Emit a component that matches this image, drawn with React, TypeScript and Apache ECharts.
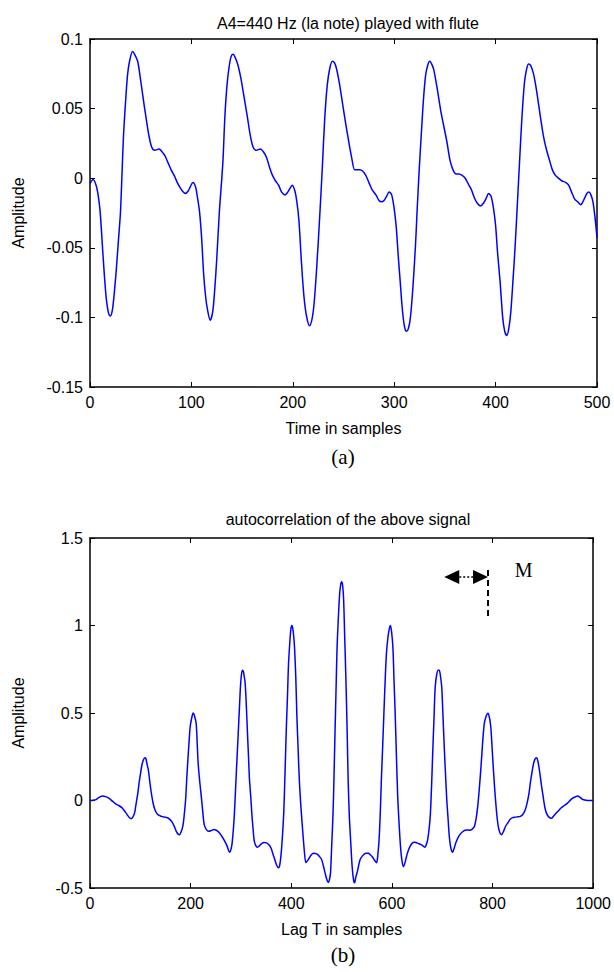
import React, { useEffect, useRef } from "react";
import * as echarts from "echarts";

// ---- (a) flute signal: time in samples / amplitude ----
const fluteT = [
  0, 3, 6, 8, 10, 12, 14, 16, 18, 20, 22, 24, 26, 28, 30, 31.5, 33, 35, 37, 39, 42, 44, 47, 50, 53.5, 56, 58, 61, 64, 68, 71, 74, 77, 80, 83, 86, 89, 92, 94, 97, 99, 101.5,
  104, 106, 108, 110, 112, 114, 116, 118.5, 121, 123, 125, 127.5, 131, 133, 135, 137, 139, 141, 143, 146, 149, 152, 155, 158, 161, 164, 168, 171, 174, 177, 180, 183, 186, 189, 192.5, 195, 197.5, 199.5,
  202, 204, 206, 208.5, 211, 213.5, 216.5, 219, 221, 223.5, 226.5, 229, 231.5, 234, 236.5, 239, 241, 243, 246, 249, 252, 255, 258, 261, 263.5, 266, 269, 272, 275, 278, 282, 285, 287.5, 290, 292.5, 295, 297.5,
  300, 302, 304, 306, 308, 310, 312, 314, 316, 318.5, 321, 322.5, 324.5, 327, 329, 331, 333, 335, 337, 339, 342.5, 346, 349, 352, 355, 358, 361, 364, 367, 370, 373, 376, 379, 382, 385, 388, 391, 393, 395.5,
  398, 400, 402, 404.5, 407, 409, 411, 413, 415, 417, 419, 420.5, 423.5, 426, 428.5, 430.5, 432.5, 434.5, 437, 439, 441, 444, 447, 450, 453.5, 456, 459, 462, 465.5, 469, 472, 475.5, 478, 481, 484, 486, 488, 490, 492, 494, 496, 498, 500,
];
const fluteAmp = [
  -0.004, -0.001, -0.005, -0.012, -0.024, -0.046, -0.068, -0.086, -0.096, -0.099, -0.095, -0.082, -0.065, -0.045, -0.025, 0.002, 0.03, 0.054, 0.074, 0.084, 0.091, 0.089, 0.084, 0.07, 0.052, 0.04, 0.031, 0.022, 0.02, 0.021, 0.019, 0.016, 0.011, 0.006, 0.002, -0.003, -0.007, -0.01, -0.011, -0.009, -0.006, -0.003,
  -0.006, -0.014, -0.024, -0.042, -0.068, -0.085, -0.095, -0.102, -0.096, -0.08, -0.058, -0.025, 0.011, 0.044, 0.066, 0.079, 0.087, 0.089, 0.087, 0.081, 0.071, 0.058, 0.045, 0.031, 0.022, 0.02, 0.021, 0.019, 0.015, 0.008, 0.002, -0.002, -0.005, -0.01, -0.012, -0.01, -0.007, -0.005,
  -0.009, -0.017, -0.03, -0.06, -0.085, -0.099, -0.106, -0.101, -0.09, -0.065, -0.028, 0.006, 0.043, 0.067, 0.079, 0.084, 0.083, 0.079, 0.068, 0.054, 0.04, 0.027, 0.015, 0.006, 0.006, 0.006, 0.005, 0.002, -0.003, -0.008, -0.012, -0.016, -0.017, -0.016, -0.013, -0.01, -0.012,
  -0.022, -0.035, -0.056, -0.075, -0.094, -0.106, -0.11, -0.108, -0.1, -0.078, -0.048, -0.025, 0.004, 0.035, 0.058, 0.074, 0.081, 0.084, 0.082, 0.078, 0.064, 0.048, 0.037, 0.026, 0.013, 0.006, 0.003, 0.003, 0.002, 0, -0.004, -0.008, -0.014, -0.018, -0.02, -0.018, -0.014, -0.011, -0.013,
  -0.022, -0.034, -0.054, -0.075, -0.1, -0.11, -0.113, -0.108, -0.096, -0.075, -0.052, -0.032, 0.01, 0.044, 0.069, 0.078, 0.082, 0.081, 0.076, 0.069, 0.06, 0.045, 0.031, 0.021, 0.012, 0.006, 0.002, 0, -0.002, -0.003, -0.005, -0.011, -0.015, -0.017, -0.019, -0.017, -0.014, -0.011, -0.01, -0.012, -0.017, -0.028, -0.043,
];

// ---- (b) autocorrelation: lag T in samples / amplitude ----
const lagT = [
  0, 6, 12, 18, 25, 31, 38, 45, 51, 58, 64, 70, 74, 78, 82, 85, 88.5, 91, 95, 98, 100.5, 103, 106, 109, 111, 113.5, 116, 118.5, 121, 125, 129, 134, 139, 144, 149, 155,
  162, 167, 171.5, 175, 178, 181, 184.5, 187, 190, 192, 194.5, 197, 199, 202, 205, 208, 211, 213, 215, 218, 220.5, 224, 227, 231, 236, 241, 246.5, 251, 256,
  261, 266, 270, 273, 276, 278, 280.5, 282.5, 285, 287, 289.5, 292, 294.5, 297, 299, 301, 303, 305, 307, 308.5, 311, 313, 315, 317, 319.5, 321.5, 324, 326, 329, 333, 337, 341, 346, 351, 355,
  359.5, 363, 367, 371, 374.5, 377, 380, 382.5, 385, 387.5, 390, 392.5, 394.5, 397, 399, 401, 403, 405, 406.5, 409, 411, 413.5, 416, 419, 423, 426, 429, 432, 436, 440, 444, 448, 452, 456,
  460, 463.5, 467, 470.5, 474, 476, 478, 480, 483, 485, 487, 489, 491, 493.5, 496, 498, 500,
  502, 504, 506, 508.5, 511, 513, 515.5, 518, 521, 524, 526, 528, 531, 534, 537, 541, 545, 549, 553, 557, 561, 565, 569.5, 572, 574.5, 577, 579, 581.5, 584, 586.5, 589, 592, 595, 597, 599.5,
  602, 604, 606.5, 609, 611.5, 614, 617, 620, 623, 626, 629, 632, 636, 640, 644, 648, 652, 657, 661, 665, 668, 671, 674, 676.5, 679, 681, 683.5, 686, 689, 692, 694, 696.5, 699,
  701.5, 704, 706.5, 709, 711.5, 714, 717, 720.5, 724, 727, 731, 735, 740, 745, 750, 754.5, 759, 764, 767.5, 770.5, 774, 777, 780, 783.5, 787, 791, 794, 796.5, 799.5,
  803, 806, 809.5, 813, 818, 822, 826, 831, 835.5, 840, 845, 850, 855, 860, 865, 869, 872.5, 875, 878, 881, 884, 887.5, 890.5, 894, 897, 900.5,
  904, 907, 912, 917, 921, 926.5, 931, 936, 942, 949, 954, 959, 964, 969, 974, 978, 983, 988, 994, 1000,
];
const autocorr = [
  0, 0.002, 0.005, 0.018, 0.026, 0.022, 0.012, -0.005, -0.019, -0.03, -0.043, -0.065, -0.082, -0.097, -0.104, -0.095, -0.072, -0.03, 0.042, 0.11, 0.155, 0.2, 0.231, 0.245, 0.24, 0.205, 0.174, 0.115, 0.06, -0.01, -0.053, -0.078, -0.087, -0.092, -0.095, -0.1,
  -0.119, -0.145, -0.176, -0.192, -0.195, -0.18, -0.147, -0.09, 0.004, 0.11, 0.231, 0.34, 0.42, 0.47, 0.5, 0.48, 0.44, 0.33, 0.21, 0.11, 0.042, -0.06, -0.138, -0.165, -0.176, -0.172, -0.166, -0.17, -0.181,
  -0.2, -0.223, -0.245, -0.265, -0.29, -0.295, -0.275, -0.242, -0.16, -0.072, 0.08, 0.231, 0.38, 0.533, 0.65, 0.72, 0.745, 0.735, 0.7, 0.665, 0.52, 0.382, 0.25, 0.117, 0.02, -0.072, -0.16, -0.223, -0.255, -0.267, -0.258, -0.246, -0.24, -0.242, -0.252,
  -0.27, -0.3, -0.336, -0.37, -0.384, -0.37, -0.299, -0.2, -0.072, 0.15, 0.4, 0.6, 0.78, 0.9, 0.975, 1.0, 0.985, 0.93, 0.873, 0.7, 0.495, 0.3, 0.117, -0.03, -0.185, -0.29, -0.355, -0.345, -0.327, -0.31, -0.302, -0.303, -0.308, -0.32,
  -0.336, -0.37, -0.412, -0.45, -0.469, -0.45, -0.412, -0.28, -0.072, 0.15, 0.4, 0.64, 0.873, 1.04, 1.176, 1.23, 1.25,
  1.23, 1.15, 0.95, 0.7, 0.4, 0.117, -0.1, -0.23, -0.38, -0.459, -0.47, -0.44, -0.41, -0.37, -0.336, -0.318, -0.306, -0.302, -0.302, -0.31, -0.321, -0.34, -0.355, -0.31, -0.223, -0.06, 0.117, 0.3, 0.495, 0.68, 0.836, 0.93, 0.985, 1.0, 0.96,
  0.873, 0.7, 0.495, 0.25, 0.023, -0.12, -0.261, -0.345, -0.378, -0.355, -0.32, -0.29, -0.262, -0.245, -0.238, -0.24, -0.245, -0.251, -0.258, -0.267, -0.255, -0.223, -0.16, -0.072, 0.1, 0.268, 0.46, 0.647, 0.72, 0.745, 0.745, 0.71, 0.647,
  0.48, 0.306, 0.15, 0.004, -0.1, -0.204, -0.27, -0.295, -0.27, -0.242, -0.215, -0.195, -0.18, -0.17, -0.168, -0.17, -0.165, -0.147, -0.1, -0.034, 0.08, 0.193, 0.32, 0.439, 0.48, 0.499, 0.47, 0.42, 0.28,
  0.117, 0, -0.11, -0.17, -0.195, -0.175, -0.147, -0.125, -0.106, -0.098, -0.095, -0.093, -0.091, -0.08, -0.053, -0.01, 0.042, 0.1, 0.155, 0.205, 0.235, 0.245, 0.22, 0.155, 0.09, 0.023,
  -0.04, -0.072, -0.095, -0.102, -0.09, -0.072, -0.058, -0.043, -0.03, -0.015, 0, 0.013, 0.02, 0.026, 0.018, 0.008, 0.003, 0, 0, 0,
];

// ---- axis ranges ----
const topX = { min: 0, max: 500, interval: 100 };
const topY = { min: -0.15, max: 0.1, interval: 0.05 };
const botX = { min: 0, max: 1000, interval: 200 };
const botY = { min: -0.5, max: 1.5, interval: 0.5 };

// ---- texts ----
const titleA = "A4=440 Hz (la note) played with flute";
const titleB = "autocorrelation of the above signal";
const xNameA = "Time in samples";
const xNameB = "Lag T in samples";
const yName = "Amplitude";
const captionA = "(a)";
const captionB = "(b)";

// ---- annotation "M" in (b), in data coordinates ----
const arrowLagFrom = 704;
const arrowLagTo = 791;
const arrowAmp = 1.277;
const markerAmpTop = 1.317;
const markerAmpBottom = 1.043;
const mLabel = "M";
const mLag = 862;
const mAmp = 1.317;

const SANS = "'Liberation Sans', Arial, sans-serif";
const SERIF = "'Liberation Serif', 'Times New Roman', serif";
const FS = 16;

const plainNumber = (v: number) => String(v);

function xAxisPair(grid: number, r: { min: number; max: number; interval: number }, name: string) {
  const common = {
    type: "value" as const,
    gridIndex: grid,
    min: r.min,
    max: r.max,
    interval: r.interval,
    splitLine: { show: false },
    axisLine: { show: true, onZero: false, lineStyle: { color: "#000", width: 1.5 } },
    axisTick: { show: true, inside: true, length: 5, lineStyle: { color: "#000", width: 1 } },
  };
  return [
    {
      ...common,
      position: "bottom" as const,
      name,
      nameLocation: "middle" as const,
      nameGap: 33,
      nameTextStyle: { color: "#000", fontSize: FS, fontFamily: SANS },
      axisLabel: { show: true, color: "#000", fontSize: FS, fontFamily: SANS, margin: 7, formatter: plainNumber },
    },
    { ...common, position: "top" as const, axisLabel: { show: false } },
  ];
}

function yAxisPair(grid: number, r: { min: number; max: number; interval: number }) {
  const common = {
    type: "value" as const,
    gridIndex: grid,
    min: r.min,
    max: r.max,
    interval: r.interval,
    splitLine: { show: false },
    axisLine: { show: true, onZero: false, lineStyle: { color: "#000", width: 1.5 } },
    axisTick: { show: true, inside: true, length: 5, lineStyle: { color: "#000", width: 1 } },
  };
  return [
    {
      ...common,
      position: "left" as const,
      name: yName,
      nameLocation: "middle" as const,
      nameGap: 64,
      nameTextStyle: { color: "#000", fontSize: FS, fontFamily: SANS },
      axisLabel: { show: true, color: "#000", fontSize: FS, fontFamily: SANS, margin: 7 },
    },
    { ...common, position: "right" as const, axisLabel: { show: false } },
  ];
}

export default function App() {
  const ref = useRef<HTMLDivElement>(null);

  useEffect(() => {
    document.body.style.margin = "0";
    if (!ref.current) return;
    const chart = echarts.init(ref.current, null, { renderer: "svg" });

    const titleStyle = { color: "#000", fontSize: FS, fontWeight: "normal", fontFamily: SANS };
    const captionStyle = { color: "#000", fontSize: 21, fontWeight: "normal", fontFamily: SERIF };

    const option: any = {
      animation: false,
      backgroundColor: "#fff",
      title: [
        { text: titleA, left: 343, top: 10, textAlign: "center", textStyle: titleStyle },
        { text: titleB, left: 343, top: 506, textAlign: "center", textStyle: titleStyle },
        { text: captionA, left: 343, top: 446, textAlign: "center", textStyle: captionStyle, padding: 0 },
        { text: captionB, left: 343, top: 944, textAlign: "center", textStyle: captionStyle, padding: 0 },
      ],
      grid: [
        { left: 90, top: 39, width: 507, height: 348 },
        { left: 90, top: 538, width: 508, height: 350 },
      ],
      xAxis: [...xAxisPair(0, topX, xNameA), ...xAxisPair(1, botX, xNameB)],
      yAxis: [...yAxisPair(0, topY), ...yAxisPair(1, botY)],
      series: [
        {
          type: "line",
          xAxisIndex: 0,
          yAxisIndex: 0,
          data: fluteT.map((t, i) => [t, fluteAmp[i]]),
          showSymbol: false,
          smooth: 0.3,
          lineStyle: { color: "#0000ff", width: 1.5 },
        },
        {
          type: "line",
          xAxisIndex: 2,
          yAxisIndex: 2,
          data: lagT.map((t, i) => [t, autocorr[i]]),
          showSymbol: false,
          smooth: 0.3,
          lineStyle: { color: "#0000ff", width: 1.5 },
        },
      ],
    };
    chart.setOption(option);

    const px = (x: number, y: number) => chart.convertToPixel({ seriesIndex: 1 }, [x, y]) as number[];
    const L = px(arrowLagFrom, arrowAmp);
    const R = px(arrowLagTo, arrowAmp);
    const T = px(arrowLagTo, markerAmpTop);
    const B = px(arrowLagTo, markerAmpBottom);
    const M = px(mLag, mAmp);
    const hw = 15;
    const hh = 7;
    chart.setOption({
      graphic: [
        {
          type: "polygon",
          shape: { points: [[L[0], L[1]], [L[0] + hw, L[1] - hh], [L[0] + hw, L[1] + hh]] },
          style: { fill: "#000" },
        },
        {
          type: "polygon",
          shape: { points: [[R[0], R[1]], [R[0] - hw, R[1] - hh], [R[0] - hw, R[1] + hh]] },
          style: { fill: "#000" },
        },
        {
          type: "line",
          shape: { x1: L[0] + hw, y1: L[1], x2: R[0] - hw, y2: R[1] },
          style: { stroke: "#000", lineWidth: 1.5, lineDash: [2, 2] },
        },
        {
          type: "line",
          shape: { x1: T[0], y1: T[1], x2: B[0], y2: B[1] },
          style: { stroke: "#000", lineWidth: 2, lineDash: [6, 4] },
        },
        {
          type: "text",
          x: M[0],
          y: M[1],
          style: { text: mLabel, fill: "#000", font: `20px ${SERIF}`, textAlign: "center", textVerticalAlign: "middle" },
        },
      ],
    });

    return () => chart.dispose();
  }, []);

  return <div ref={ref} style={{ width: 614, height: 972 }} />;
}
